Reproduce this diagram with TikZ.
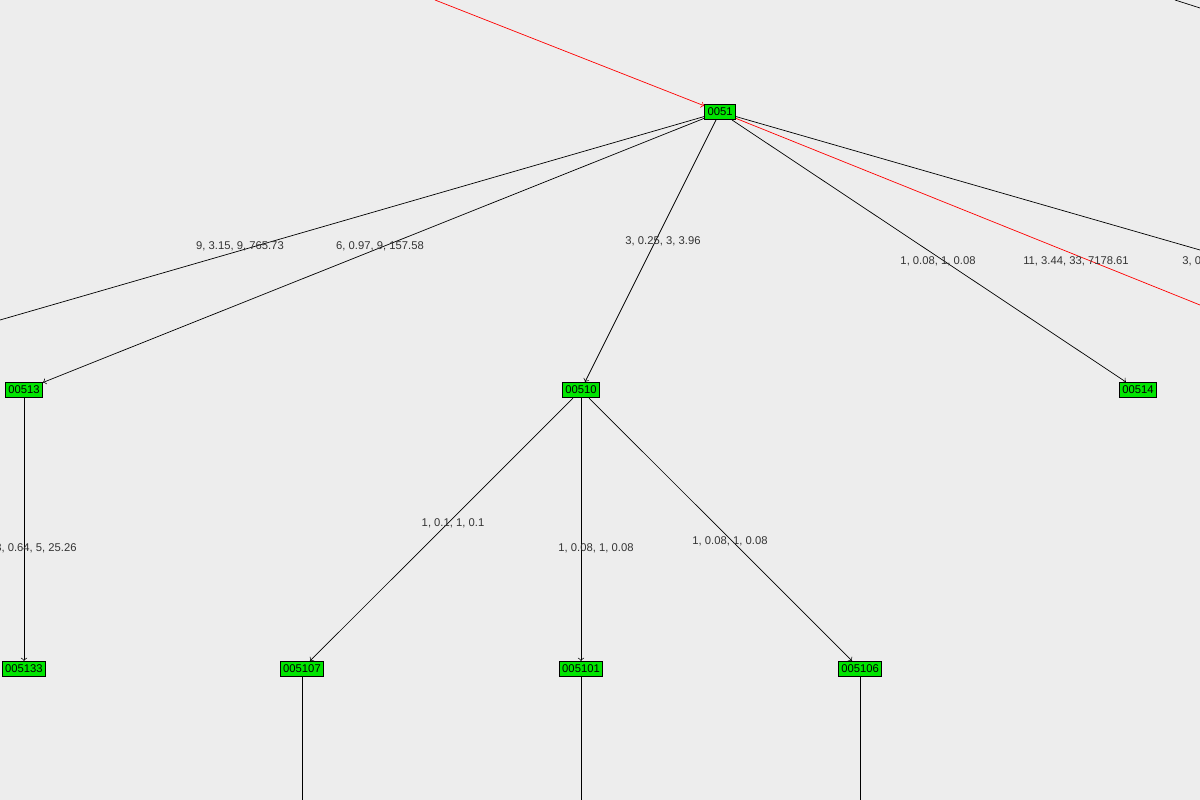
\documentclass[tikz,border=0pt]{standalone}
\usepackage{fontspec}
\setmainfont{Liberation Sans}
\usetikzlibrary{positioning, calc}
\usetikzlibrary{arrows}

\begin{document}
\begin{tikzpicture}[x=0.02cm,y=-0.02cm,->,>=to,semithick,
  every node/.style={font=\fontsize{6.4}{7.5}\selectfont},
  vert/.style={draw,fill=green!90!black,inner xsep=1.6pt,inner ysep=1pt,minimum height=0.3cm},
  lbl/.style={fill=none,text=black!80},
  hot/.style={red,thin},
  cold/.style={black,thin}]

\fill[black!7] (0,0) rectangle (1200,800);
\useasboundingbox (0,0) rectangle (1200,800);
\clip (0,0) rectangle (1200,800);

\node[vert] (V0051)   at (720,112) {0051};
\node[vert] (V00513)  at (24,390)  {00513};
\node[vert] (V00510)  at (581,390) {00510};
\node[vert] (V00514)  at (1138,390) {00514};
\node[vert] (V005133) at (24,669)  {005133};
\node[vert] (V005107) at (302,669) {005107};
\node[vert] (V005101) at (581,669) {005101};
\node[vert] (V005106) at (860,669) {005106};

\coordinate (Tin)   at (435,0);
\coordinate (Ttop)  at (1175,0);
\coordinate (Tright) at (1200,8);
\coordinate (Tleft) at (0,320);
\coordinate (Tred)  at (1200,305);
\coordinate (Tfar)  at (1200,250);
\coordinate (B1) at (302,800);
\coordinate (B2) at (581,800);
\coordinate (B3) at (860,800);

\draw[hot] (Tin) -- (V0051);
\draw[cold,-] (Ttop) -- (Tright);

\draw[cold,-] (V0051) -- (Tleft);
\draw[cold] (V0051) -- (V00513);
\draw[cold] (V0051) -- (V00510);
\draw[cold] (V0051) -- (V00514);
\draw[hot,-] (V0051) -- (Tred);
\draw[cold,-] (V0051) -- (Tfar);

\draw[cold] (V00513) -- (V005133);
\draw[cold] (V00510) -- (V005107);
\draw[cold] (V00510) -- (V005101);
\draw[cold] (V00510) -- (V005106);
\draw[cold,-] (V005107) -- (B1);
\draw[cold,-] (V005101) -- (B2);
\draw[cold,-] (V005106) -- (B3);

\node[lbl] (L1) at (240,246) {9, 3.15, 9, 765.73};
\node[lbl] (L2) at (380,246) {6, 0.97, 9, 157.58};
\node[lbl] (L3) at (663,241) {3, 0.25, 3, 3.96};
\node[lbl] (L4) at (938,261) {1, 0.08, 1, 0.08};
\node[lbl] (L5) at (1076,261) {11, 3.44, 33, 7178.61};
\node[lbl,anchor=west] (L6) at (1176,261) {3, 0.25, 3, 3.96};
\node[lbl,anchor=east] (L7) at (83,548) {3, 0.64, 5, 25.26};
\node[lbl] (L8) at (453,523) {1, 0.1, 1, 0.1};
\node[lbl] (L9) at (596,548) {1, 0.08, 1, 0.08};
\node[lbl] (L10) at (730,541) {1, 0.08, 1, 0.08};
\end{tikzpicture}
\end{document}
